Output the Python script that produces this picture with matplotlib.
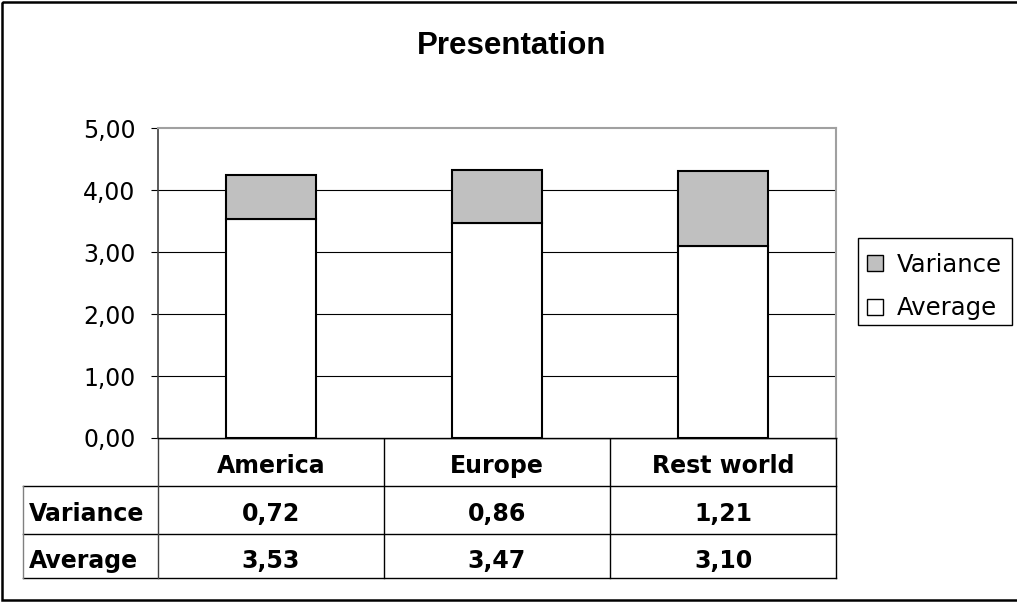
import matplotlib
matplotlib.use("Agg")
import matplotlib.pyplot as plt
from matplotlib.patches import Rectangle
from matplotlib.lines import Line2D
from matplotlib.ticker import FuncFormatter
import matplotlib.transforms as mtransforms

# Data
categories = ["America", "Europe", "Rest world"]
average = [3.53, 3.47, 3.10]
variance = [0.72, 0.86, 1.21]
series_names = ["Variance", "Average"]
y_ticks = [0, 1, 2, 3, 4, 5]

W, H = 1017, 603
TITLE_FONT = "Liberation Sans"
FONT = "DejaVu Sans"
VAR_COLOR = "#C0C0C0"


def comma(v):
    return f"{v:.2f}".replace(".", ",")


fig = plt.figure(figsize=(W / 100, H / 100), dpi=100)
fig.patch.set_facecolor("white")

# Pixel-space overlay for frame, data table and legend
ov = fig.add_axes([0, 0, 1, 1], zorder=0)
ov.set_xlim(0, W)
ov.set_ylim(H, 0)
ov.axis("off")
ov.patch.set_alpha(0)

# Plot area
left, right, top, bottom = 157.7, 836.3, 128.3, 438.0
ax = fig.add_axes([left / W, (H - bottom) / H, (right - left) / W, (bottom - top) / H], zorder=1)
ax.set_facecolor("white")

x = list(range(len(categories)))
bar_w = 0.4
ax.bar(x, average, width=bar_w, color="white", edgecolor="black", linewidth=1.5, zorder=3)
ax.bar(x, variance, width=bar_w, bottom=average, color=VAR_COLOR, edgecolor="black",
       linewidth=1.5, zorder=3)

ax.set_xlim(-0.5, len(categories) - 0.5)
ax.set_ylim(0, 5)
ax.set_yticks(y_ticks)
ax.yaxis.set_major_formatter(FuncFormatter(lambda v, p: comma(v)))
ax.set_xticks([])
for yv in y_ticks[1:-1]:
    ax.axhline(yv, color="black", linewidth=0.8, zorder=1)
ax.tick_params(axis="y", length=5, width=0.8, color="black", pad=11,
               labelsize=17)
for lab in ax.get_yticklabels():
    lab.set_fontfamily(FONT)
ax.spines["left"].set_color("#404040")
ax.spines["left"].set_linewidth(1.2)
ax.spines["top"].set_color("#A0A0A0")
ax.spines["top"].set_linewidth(1.5)
ax.spines["right"].set_color("#A0A0A0")
ax.spines["right"].set_linewidth(1.5)
ax.spines["bottom"].set_color("black")
ax.spines["bottom"].set_linewidth(1.0)

# Title
ov.text(512, 54, "Presentation", ha="center", va="baseline", fontsize=22.5,
        fontweight="bold", fontfamily=TITLE_FONT)

# Data table beneath the plot area
tr = mtransforms.blended_transform_factory(ax.transData, ov.transData)
row_y = [438, 486, 534, 578]
table_left = 23
lc = "black"
lw = 1.0
# horizontal rules
ov.add_line(Line2D([left, right], [row_y[0], row_y[0]], color=lc, lw=lw))
for yy in row_y[1:]:
    ov.add_line(Line2D([table_left, right], [yy, yy], color=lc, lw=lw))
# vertical rules
ov.add_line(Line2D([table_left, table_left], [row_y[1], row_y[3]], color="#808080", lw=lw))
ov.add_line(Line2D([left, left], [row_y[0], row_y[3]], color="#404040", lw=lw))
for i in range(1, len(categories) + 1):
    ov.add_line(Line2D([i - 0.5, i - 0.5], [row_y[0], row_y[3]], color=lc, lw=lw,
                       transform=tr))

cell_font = dict(fontsize=17, fontweight="bold", fontfamily=FONT, va="baseline")
baselines = [473, 521, 568]
for i, cat in enumerate(categories):
    ov.text(i, baselines[0], cat, ha="center", transform=tr, **cell_font)
    ov.text(i, baselines[1], comma(variance[i]), ha="center", transform=tr, **cell_font)
    ov.text(i, baselines[2], comma(average[i]), ha="center", transform=tr, **cell_font)
ov.text(29, baselines[1], series_names[0], ha="left", **cell_font)
ov.text(29, baselines[2], series_names[1], ha="left", **cell_font)

# Legend
ov.add_patch(Rectangle((858, 238), 154, 87, facecolor="white", edgecolor="black", lw=1.0))
leg_colors = [VAR_COLOR, "white"]
leg_base = [271.5, 315.5]
for name, col, yy in zip(series_names, leg_colors, leg_base):
    ov.add_patch(Rectangle((867, yy - 16.5), 16, 16, facecolor=col, edgecolor="black", lw=1.0))
    ov.text(897, yy, name, ha="left", va="baseline", fontsize=17.5, fontfamily=FONT)

# Outer chart frame
ov.add_patch(Rectangle((2.3, 2.3), W + 10, 597.5, facecolor="none", edgecolor="black",
                       lw=1.8, clip_on=True))

fig.savefig("out.png", dpi=100, facecolor="white")
